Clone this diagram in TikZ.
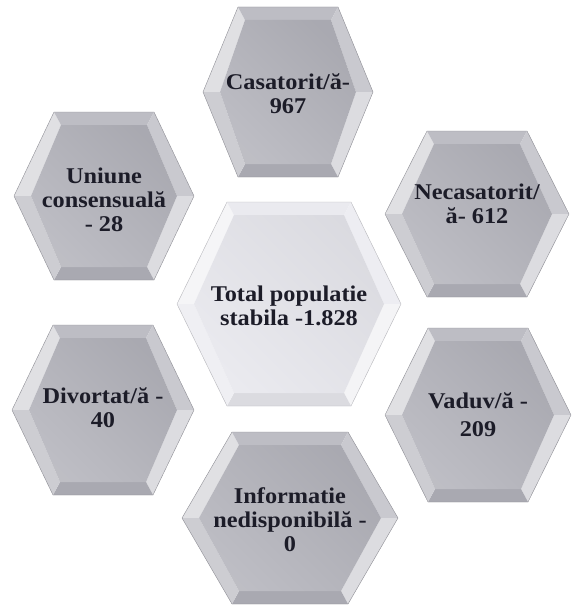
\documentclass[tikz,border=0pt]{standalone}
\usepackage{fontspec}
\setmainfont[FakeStretch=1.08]{Liberation Serif}
\definecolor{facegray}{RGB}{178,178,186}
\definecolor{centergray}{RGB}{230,230,236}
\definecolor{textcol}{RGB}{28,28,40}
\tikzset{
  hexlabel/.style={align=center, text=textcol, font=\bfseries\fontsize{22.5}{24}\selectfont, inner sep=0pt},
}
% #1 name, #2 cx, #3 cy, #4 half-width, #5 half-height, #6 half top edge, #7 face colour, #8 text, #9 text y offset
\newcommand{\hexcell}[9]{%
  \begin{scope}[shift={(#2,#3)}]
    \coordinate (#1-L)  at (-#4,0);
    \coordinate (#1-TL) at (-#6,-#5);
    \coordinate (#1-TR) at (#6,-#5);
    \coordinate (#1-R)  at (#4,0);
    \coordinate (#1-BR) at (#6,#5);
    \coordinate (#1-BL) at (-#6,#5);
    \coordinate (#1-l)  at ({-#4+17},0);
    \coordinate (#1-tl) at ({-#6+7},{-#5+13});
    \coordinate (#1-tr) at ({#6-7},{-#5+13});
    \coordinate (#1-r)  at ({#4-17},0);
    \coordinate (#1-br) at ({#6-7},{#5-13});
    \coordinate (#1-bl) at ({-#6+7},{#5-13});
    \fill[#7!40!white] (#1-L) -- (#1-TL) -- (#1-tl) -- (#1-l) -- cycle;
    \fill[#7!85!white] (#1-TL) -- (#1-TR) -- (#1-tr) -- (#1-tl) -- cycle;
    \fill[#7!70!white] (#1-TR) -- (#1-R) -- (#1-r) -- (#1-tr) -- cycle;
    \fill[#7!45!white] (#1-R) -- (#1-BR) -- (#1-br) -- (#1-r) -- cycle;
    \fill[#7!95!black] (#1-BR) -- (#1-BL) -- (#1-bl) -- (#1-br) -- cycle;
    \fill[#7!65!white] (#1-BL) -- (#1-L) -- (#1-l) -- (#1-bl) -- cycle;
    \shade[left color=#7!85!white, right color=#7!95!black, shading angle=135]
      (#1-l) -- (#1-tl) -- (#1-tr) -- (#1-r) -- (#1-br) -- (#1-bl) -- cycle;
    \draw[#7!80!black, line width=0.4pt]
      (#1-L) -- (#1-TL) -- (#1-TR) -- (#1-R) -- (#1-BR) -- (#1-BL) -- cycle;
    \node[hexlabel] (#1) at (0,#9) {#8};
  \end{scope}
}
\begin{document}
\begin{tikzpicture}[x=1pt,y=-1pt]
  \useasboundingbox[fill=white] (0,0) rectangle (573,610);
  \hexcell{casatorit}{288}{92}{85}{85}{50}{facegray}{Casatorit/ă-\\967}{2}
  \hexcell{uniune}{104}{196}{90}{84}{50}{facegray}{Uniune\\consensuală\\- 28}{4}
  \hexcell{necas}{477}{214}{92}{83}{50}{facegray}{Necasatorit/\\ă- 612}{-10}
  \hexcell{total}{289}{304}{112}{102}{62}{centergray}{Total populatie\\stabila -1.828}{2}
  \hexcell{divortat}{103}{410}{91}{85}{50}{facegray}{Divortat/ă -\\40}{-2}
  \hexcell{vaduv}{478}{415}{93}{87}{50}{facegray}{Vaduv/ă -\\[4pt]209}{0}
  \hexcell{informatie}{290}{518}{108}{86}{58}{facegray}{Informatie\\nedisponibilă -\\0}{2}
\end{tikzpicture}
\end{document}
